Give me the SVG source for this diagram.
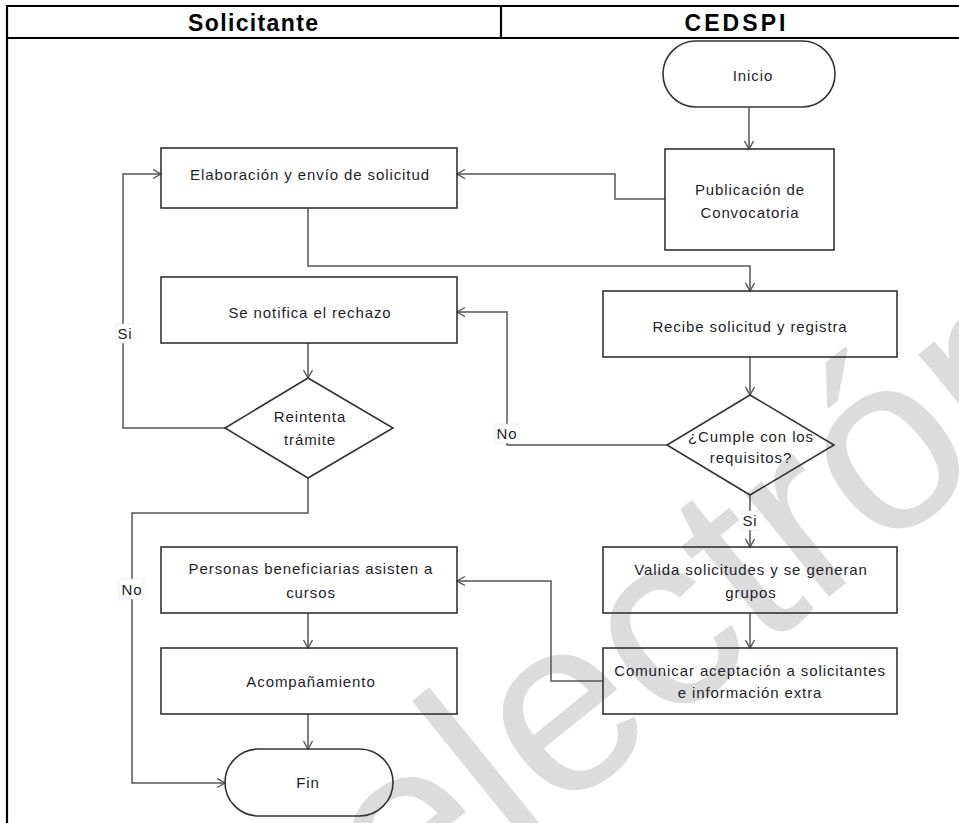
<svg xmlns="http://www.w3.org/2000/svg" width="959" height="823" viewBox="0 0 959 823">
<style>
.tbl{stroke:#000;stroke-width:2.2;fill:none}
.hdr{font-family:"Liberation Sans",Arial,sans-serif;font-weight:bold;font-size:23px;fill:#000;text-anchor:middle}
.box{fill:none;stroke:#333;stroke-width:1.6}
.t{font-family:"Liberation Sans",Arial,sans-serif;font-size:15px;letter-spacing:0.9px;fill:#1e1e2a;text-anchor:middle}
.cn{fill:none;stroke:#555;stroke-width:1.5;marker-end:url(#ah)}
.lb{fill:#fff;stroke:#e2e2e2;stroke-width:0.6}
.wm{font-family:"Liberation Sans",Arial,sans-serif;font-size:250px;fill:#dcdcdc}
</style>
<defs>
<marker id="ah" markerUnits="userSpaceOnUse" markerWidth="12" markerHeight="12" refX="9" refY="5" orient="auto">
<path d="M1,0.5 L9,5 L1,9.5" fill="none" stroke="#555" stroke-width="1.4"/>
</marker>
</defs>
<rect width="959" height="823" fill="#fff"/>
<text class="wm" transform="translate(405,940) rotate(-39)">electrónico</text>
<g id="table">
<path class="tbl" d="M7,823 V6 H962 M7,38 H962 M501,6 V38"/>
<text class="hdr" x="253" y="31" textLength="130" lengthAdjust="spacing">Solicitante</text>
<text class="hdr" x="735" y="31" textLength="101" lengthAdjust="spacing">CEDSPI</text>
</g>
<g id="connectors">
<path class="cn" d="M749,108 V149"/>
<path class="cn" d="M665,199 H615 V174 H457"/>
<path class="cn" d="M308,208 V266 H750 V291"/>
<path class="cn" d="M750,357 V395"/>
<path class="cn" d="M667,445 H507 V312 H457"/>
<path class="cn" d="M308,343 V378"/>
<path class="cn" d="M225,428 H123 V174 H161"/>
<path class="cn" d="M308,478 V513 H132 V783 H225"/>
<path class="cn" d="M750,495 V547"/>
<path class="cn" d="M750,613 V648"/>
<path class="cn" d="M603,681 H551 V581 H457"/>
<path class="cn" d="M308,613 V648"/>
<path class="cn" d="M308,714 V749"/>
<rect class="lb" x="116" y="324" width="18" height="19"/>
<text class="t" x="125" y="339">Si</text>
<rect class="lb" x="495" y="424" width="24" height="19"/>
<text class="t" x="507" y="439">No</text>
<rect class="lb" x="742" y="511" width="16" height="19"/>
<text class="t" x="750" y="526">Si</text>
<rect class="lb" x="119" y="579" width="25" height="20"/>
<text class="t" x="132" y="595">No</text>
</g>
<g id="inicio">
<rect class="box" x="663" y="41" width="172" height="66" rx="33"/>
<text class="t" x="753" y="81">Inicio</text>
</g>
<g id="publicacion">
<rect class="box" x="665" y="149" width="169" height="101"/>
<text class="t" x="750" y="195">Publicación de</text>
<text class="t" x="750" y="218">Convocatoria</text>
</g>
<g id="elaboracion">
<rect class="box" x="161" y="148" width="296" height="60"/>
<text class="t" x="310" y="180">Elaboración y envío de solicitud</text>
</g>
<g id="recibe">
<rect class="box" x="603" y="291" width="294" height="66"/>
<text class="t" x="750" y="332">Recibe solicitud y registra</text>
</g>
<g id="notifica">
<rect class="box" x="161" y="277" width="296" height="66"/>
<text class="t" x="310" y="318">Se notifica el rechazo</text>
</g>
<g id="reintenta">
<polygon class="box" points="308,378 393,428 308,478 225,428"/>
<text class="t" x="310" y="422">Reintenta</text>
<text class="t" x="310" y="445">trámite</text>
</g>
<g id="cumple">
<polygon class="box" points="750,395 834,445 750,495 667,445"/>
<text class="t" x="751" y="442">¿Cumple con los</text>
<text class="t" x="751" y="463">requisitos?</text>
</g>
<g id="valida">
<rect class="box" x="603" y="547" width="294" height="66"/>
<text class="t" x="751" y="575">Valida solicitudes y se generan</text>
<text class="t" x="751" y="598">grupos</text>
</g>
<g id="comunicar">
<rect class="box" x="603" y="648" width="294" height="66"/>
<text class="t" x="750" y="676">Comunicar aceptación a solicitantes</text>
<text class="t" x="750" y="698">e información extra</text>
</g>
<g id="personas">
<rect class="box" x="161" y="547" width="296" height="66"/>
<text class="t" x="311" y="574">Personas beneficiarias asisten a</text>
<text class="t" x="311" y="598">cursos</text>
</g>
<g id="acompanamiento">
<rect class="box" x="161" y="648" width="296" height="66"/>
<text class="t" x="311" y="687">Acompañamiento</text>
</g>
<g id="fin">
<rect class="box" x="225" y="749" width="168" height="67" rx="33.5"/>
<text class="t" x="308" y="788">Fin</text>
</g>
</svg>
